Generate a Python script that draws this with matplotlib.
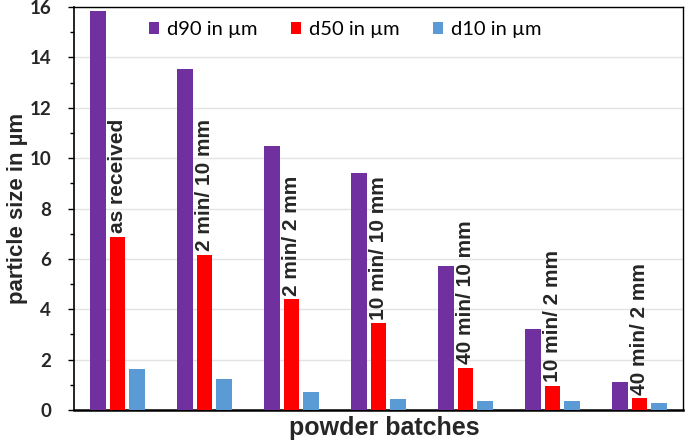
import matplotlib
matplotlib.use('Agg')
import matplotlib.pyplot as plt
import numpy as np
from matplotlib.ticker import MultipleLocator

batches = ['as received', '2 min/ 10 mm', '2 min/ 2 mm', '10 min/ 10 mm',
           '40 min/ 10 mm', '10 min/ 2 mm', '40 min/ 2 mm']
d90 = [15.85, 13.54, 10.49, 9.42, 5.73, 3.20, 1.12]
d50 = [6.88, 6.15, 4.39, 3.44, 1.67, 0.97, 0.46]
d10 = [1.61, 1.23, 0.70, 0.42, 0.34, 0.34, 0.27]

series_names = ['d90 in µm', 'd50 in µm', 'd10 in µm']
colors = ['#7030A0', '#FF0000', '#5B9BD5']

fig = plt.figure(figsize=(6.85, 4.45), dpi=100)
ax = fig.add_axes([74 / 685, 1 - 410 / 445, 609 / 685, 403 / 445])

index = np.arange(len(batches))
bar_width = 0.175
step = 0.225

for k, (vals, name, col) in enumerate(zip([d90, d50, d10], series_names, colors)):
    ax.bar(index + (k - 1) * step, vals, bar_width, color=col, label=name, zorder=3)

# batch names written vertically above the d50 bars
for i, name in enumerate(batches):
    ax.text(index[i], d50[i] + 0.15, name, rotation=90, ha='center', va='bottom',
            fontsize=15, fontweight='bold', family='Liberation Sans', color='#262626', zorder=4)

ax.set_xlim(-0.5, 6.5)
ax.set_ylim(0, 16)
ax.set_xticks([])
ax.yaxis.set_major_locator(MultipleLocator(2))
ax.yaxis.set_minor_locator(MultipleLocator(1))
ax.tick_params(axis='y', which='major', direction='out', length=4.5, width=1, pad=12)
ax.tick_params(axis='y', which='minor', direction='out', length=3, width=1)
for lab in ax.get_yticklabels():
    lab.set_fontfamily('Lato')
    lab.set_fontweight('bold')
    lab.set_fontsize(13.5)
    lab.set_color('#262626')

ax.grid(axis='y', which='major', color='#e3e3e3', linewidth=1, zorder=0)
for side in ['top', 'right']:
    ax.spines[side].set_linewidth(1)
ax.spines['left'].set_linewidth(1.2)
ax.spines['bottom'].set_linewidth(1.8)

ax.set_ylabel('particle size in µm', fontsize=16, fontweight='bold',
              family='Liberation Sans', color='#262626')
ax.yaxis.set_label_coords(-0.092, 0.5, transform=ax.transAxes)
ax.yaxis.label.set_va('center')
ax.set_xlabel('powder batches', fontsize=18, fontweight='bold',
              family='Liberation Sans', color='#262626')
ax.xaxis.set_label_coords(0.51, -0.015, transform=ax.transAxes)
ax.xaxis.label.set_va('top')

ax.legend(loc='upper left', bbox_to_anchor=(0.094, 1.01), ncol=3, frameon=False,
          handlelength=0.5, handleheight=0.5, handletextpad=0.4, columnspacing=1.65,
          prop={'family': 'Lato', 'size': 14.5})

fig.savefig('out.png', dpi=100)
